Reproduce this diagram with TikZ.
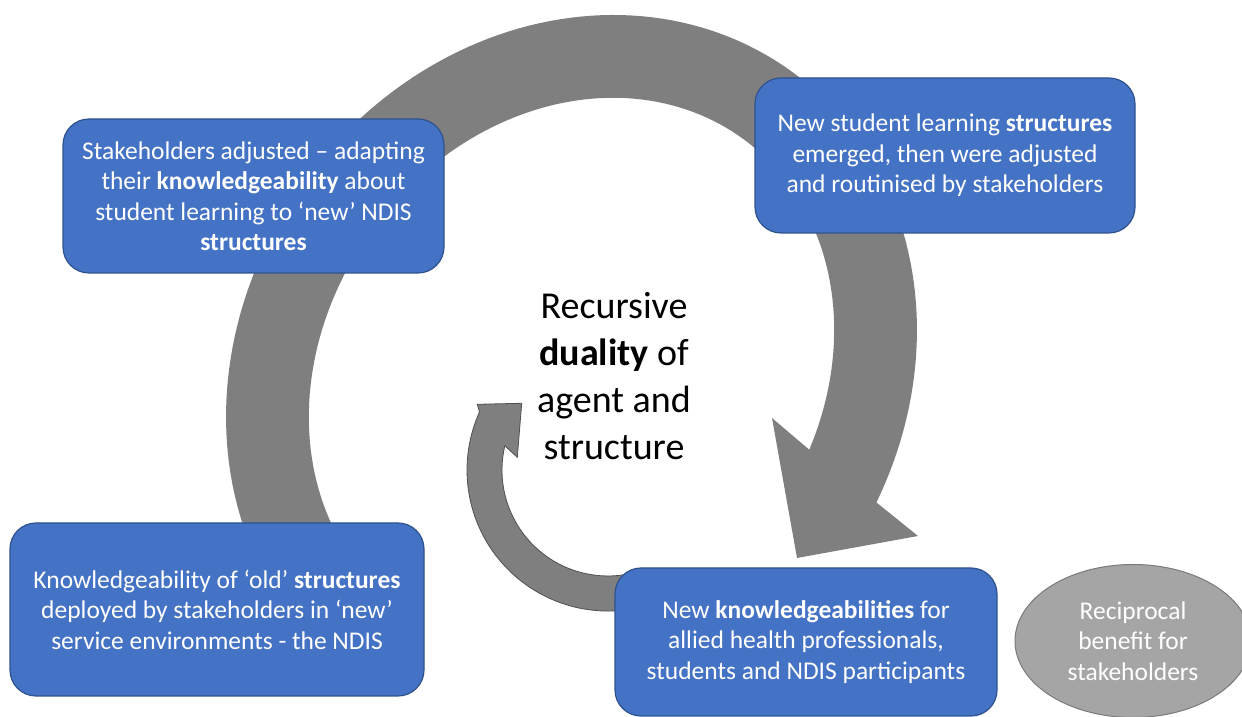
\documentclass[tikz,border=0pt]{standalone}
\usepackage{fontspec}
\setmainfont{Carlito}
\usetikzlibrary{calc,shapes.geometric}
\definecolor{boxblue}{HTML}{4472C4}
\definecolor{boxline}{HTML}{2F528F}
\definecolor{arrowgray}{HTML}{7F7F7F}
\definecolor{arrowedge}{HTML}{505050}
\definecolor{ovalgray}{HTML}{A5A5A5}
\definecolor{ovalline}{HTML}{7A7A7A}
\begin{document}
\begin{tikzpicture}[x=1pt,y=1pt,
  box/.style={draw=boxline, line width=1.2pt, fill=boxblue, rounded corners=26pt,
    text=white, align=center, inner sep=0pt, font=\fontsize{25.5}{30.5}\selectfont},
  oval/.style={ellipse, draw=ovalline, line width=1pt, fill=ovalgray, text=white,
    align=center, inner sep=0pt, font=\fontsize{25.5}{30.5}\selectfont},
  hubtext/.style={align=center, inner sep=0pt, font=\fontsize{38}{47}\selectfont}]
\useasboundingbox (0,0) rectangle (1242,717);

% large circular arrow: tilted elliptical band ending in a broad head
\coordinate (bigbarbout) at (918,181);
\coordinate (bigtip) at (797,159);
\coordinate (bigbarbin) at (772,299);
\fill[arrowgray]
  plot[domain=160:-78, samples=140, variable=\t]
    ({571.5+373.7*cos(\t)*0.5948-329*sin(\t)*0.8039},
     {343.5+373.7*cos(\t)*0.8039+329*sin(\t)*0.5948})
  -- (bigbarbout) -- (bigtip) -- (bigbarbin)
  -- plot[domain=-74:160, samples=140, variable=\t]
    ({571.5+290.7*cos(\t)*0.5948-246*sin(\t)*0.8039},
     {343.5+290.7*cos(\t)*0.8039+246*sin(\t)*0.5948})
  -- cycle;

% small circular arrow turning back towards the centre
\coordinate (sc) at (608,247);
\coordinate (smallbarbout) at (477.3,312.7);
\coordinate (smalltip) at (521.7,313.7);
\coordinate (smallbarbin) at (517.3,259.7);
\filldraw[fill=arrowgray, draw=arrowedge, line width=0.8pt, line join=miter]
  ($(sc)+(-78:141pt)$) arc[start angle=-78, end angle=-204.3, radius=141pt]
  -- (smallbarbout) -- (smalltip) -- (smallbarbin)
  -- ($(sc)+(-193.2:106pt)$) arc[start angle=-193.2, end angle=-78, radius=106pt]
  -- cycle;

% centre caption
\node[hubtext] (hub) at (614,341) {Recursive\\\textbf{duality} of\\agent and\\structure};

% stage boxes
\node[box, minimum width=381pt, minimum height=154pt] (adjusted) at (253.5,521)
  {Stakeholders adjusted – adapting\\their \textbf{knowledgeability} about\\student learning to ‘new’ NDIS\\\textbf{structures}};
\node[box, minimum width=380pt, minimum height=155pt] (emerged) at (945,561.5)
  {New student learning \textbf{structures}\\emerged, then were adjusted\\and routinised by stakeholders};
\node[box, minimum width=414pt, minimum height=173pt] (old) at (217,107.5)
  {Knowledgeability of ‘old’ \textbf{structures}\\deployed by stakeholders in ‘new’\\service environments - the NDIS};
\node[box, minimum width=382pt, minimum height=148pt] (newknow) at (806,75)
  {New \textbf{knowledgeabilities} for\\allied health professionals,\\students and NDIS participants};

% benefit oval
\node[oval, minimum width=236pt, minimum height=153pt] (benefit) at (1133,76)
  {Reciprocal\\benefit for\\stakeholders};
\end{tikzpicture}
\end{document}
